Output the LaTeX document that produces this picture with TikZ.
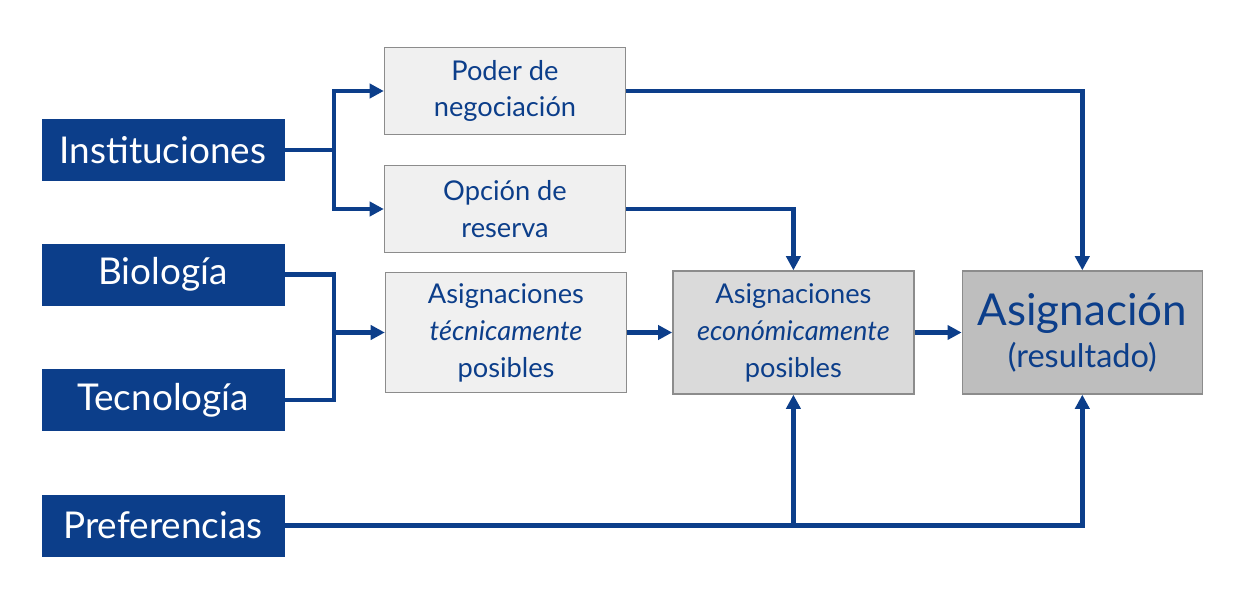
\documentclass[tikz,border=0pt]{standalone}
\usepackage{fontspec}
\setmainfont{Lato}
\usepackage{tikz}
\usetikzlibrary{positioning,calc,arrows.meta}
\definecolor{navy}{RGB}{12,62,138}
\definecolor{pale}{RGB}{240,240,240}
\definecolor{mid}{RGB}{218,218,218}
\definecolor{dark}{RGB}{190,190,190}
\definecolor{rim}{RGB}{140,140,140}

\begin{document}
\begin{tikzpicture}[factor/.style={rectangle,fill=navy,text=white,minimum width=4.86cm,minimum height=1.24cm,font=\fontsize{21}{25}\selectfont},
        stage/.style={rectangle,draw=rim,line width=0.8pt,fill=pale,text=navy,align=center,minimum width=4.82cm,font=\fontsize{15.5}{21}\selectfont},
        link/.style={draw=navy,line width=2.7pt},
        >={Triangle[length=8pt,width=8pt]}]
        \useasboundingbox (0,0) rectangle (25.08,-12.04);

        \node[factor] (inst) at (3.26,-3.0) {Instituciones};
        \node[factor] (bio) [below=1.24cm of inst] {Biología};
        \node[factor] (tecno) [below=1.25cm of bio] {Tecnología};
        \node[factor] (pref) [below=1.26cm of tecno] {Preferencias};

        \node[stage,minimum height=1.74cm] (poder) at (10.1,-1.82) {Poder de\\negociación};
        \node[stage,minimum height=1.74cm] (opcion) at (10.1,-4.18) {Opción de\\reserva};
        \node[stage,minimum height=2.4cm] (tecnica) at (10.12,-6.65) {Asignaciones\\\textit{técnicamente}\\posibles};
        \node[stage,minimum height=2.46cm,fill=mid] (economica) [right=0.9cm of tecnica] {Asignaciones\\\textit{económicamente}\\posibles};
        \node[stage,minimum height=2.46cm,minimum width=4.8cm,fill=dark] (asig) [right=0.94cm of economica] {{\fontsize{25}{30}\selectfont Asignación}\\[3pt]{\fontsize{18.5}{22}\selectfont (resultado)}};

        \coordinate (split) at (6.68,-3.0);
        \coordinate (join) at (6.68,-6.65);

        \draw[link] (inst.east) -- (split);
        \draw[link,->] (split) |- (poder.west);
        \draw[link,->] (split) |- (opcion.west);
        \draw[link] (bio.east) -| (join);
        \draw[link] (tecno.east) -| (join);
        \draw[link,->] (join) -- (tecnica.west);
        \draw[link,->] (poder.east) -| (asig.north);
        \draw[link,->] (opcion.east) -| (economica.north);
        \draw[link,->] (tecnica) -- (economica);
        \draw[link,->] (economica) -- (asig);
        \draw[link,->] (pref.east) -| (asig.south);
        \draw[link,->] (pref.east -| economica.south) -- (economica.south);
    \end{tikzpicture}
\end{document}
